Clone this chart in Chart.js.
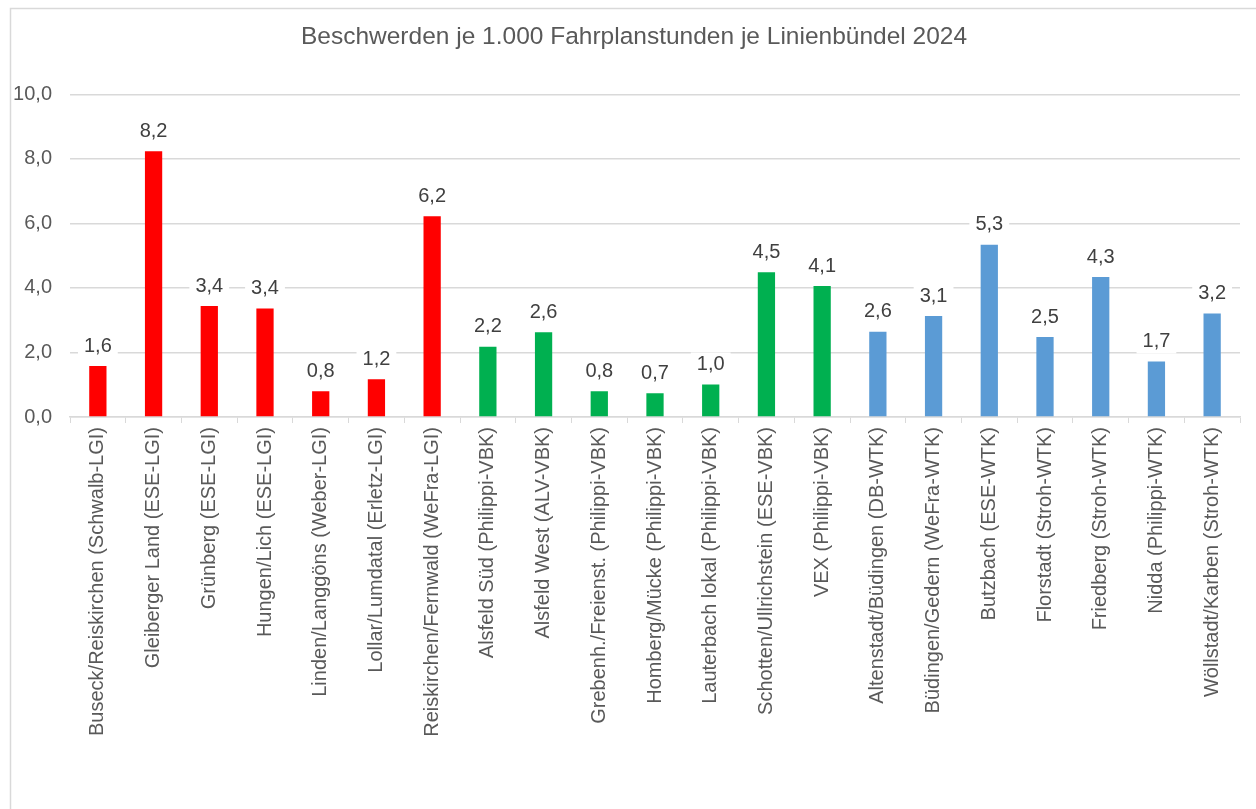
<!DOCTYPE html>
<html>
<head>
<meta charset="utf-8">
<script src="https://cdn.jsdelivr.net/npm/chart.js@4"></script>
<style>
  html, body { margin: 0; padding: 0; background: #fff; }
  #wrap { position: relative; width: 1256px; height: 809px; }
</style>
</head>
<body>
<div id="wrap"><canvas id="beschwerdenChart" width="1256" height="809"></canvas></div>
<script>
// Linienbündel und Beschwerden je 1.000 Fahrplanstunden
const buendel = [
    "Buseck/Reiskirchen (Schwalb-LGI)", "Gleiberger Land (ESE-LGI)", "Grünberg (ESE-LGI)",
    "Hungen/Lich (ESE-LGI)", "Linden/Langgöns (Weber-LGI)", "Lollar/Lumdatal (Erletz-LGI)",
    "Reiskirchen/Fernwald (WeFra-LGI)", "Alsfeld Süd (Philippi-VBK)", "Alsfeld West (ALV-VBK)",
    "Grebenh./Freienst. (Philippi-VBK)", "Homberg/Mücke (Philippi-VBK)", "Lauterbach lokal (Philippi-VBK)",
    "Schotten/Ullrichstein (ESE-VBK)", "VEX (Philippi-VBK)", "Altenstadt/Büdingen (DB-WTK)",
    "Büdingen/Gedern (WeFra-WTK)", "Butzbach (ESE-WTK)", "Florstadt (Stroh-WTK)",
    "Friedberg (Stroh-WTK)", "Nidda (Philippi-WTK)", "Wöllstadt/Karben (Stroh-WTK)"
];
const beschwerden = [1.58, 8.24, 3.44, 3.36, 0.80, 1.17, 6.22, 2.18, 2.63, 0.80, 0.74,
    1.01, 4.49, 4.06, 2.64, 3.13, 5.34, 2.48, 4.34, 1.72, 3.21];
const region = ["LGI", "LGI", "LGI", "LGI", "LGI", "LGI", "LGI", "VBK", "VBK", "VBK", "VBK",
    "VBK", "VBK", "VBK", "WTK", "WTK", "WTK", "WTK", "WTK", "WTK", "WTK"];
const yTicks = [0, 2, 4, 6, 8, 10];

const regionColor = { LGI: '#FF0000', VBK: '#00B050', WTK: '#5B9BD5' };
const fmt = v => v.toFixed(1).replace('.', ',');
const FONT = '"Liberation Sans", Arial, sans-serif';

// hellgrauer Rahmen wie im Original
const frame = {
    id: 'frame',
    beforeDraw(chart) {
        const c = chart.ctx;
        c.save();
        c.fillStyle = '#fff';
        c.fillRect(0, 0, chart.width, chart.height);
        c.strokeStyle = '#d9d9d9';
        c.lineWidth = 1.5;
        c.strokeRect(10.5, 8.5, 1400, 1000);
        c.restore();
    }
};

// Werte über den Balken, mit weißem Hintergrund
const valueLabels = {
    id: 'valueLabels',
    afterDatasetsDraw(chart) {
        const c = chart.ctx;
        const meta = chart.getDatasetMeta(0);
        c.save();
        c.font = '20px ' + FONT;
        c.textAlign = 'center';
        c.textBaseline = 'middle';
        meta.data.forEach((bar, i) => {
            const txt = fmt(beschwerden[i]);
            const w = c.measureText(txt).width;
            const y = bar.y - 20;
            c.fillStyle = '#fff';
            c.fillRect(bar.x - w / 2 - 6, y - 12, w + 12, 24);
            c.fillStyle = '#404040';
            c.fillText(txt, bar.x, y);
        });
        c.restore();
    }
};

const ctx = document.getElementById('beschwerdenChart').getContext('2d');
const beschwerdenChart = new Chart(ctx, {
    type: 'bar',
    data: {
        labels: buendel,
        datasets: [{
            label: 'Beschwerden',
            data: beschwerden,
            backgroundColor: region.map(r => regionColor[r]),
            barPercentage: 0.31,
            categoryPercentage: 1.0
        }]
    },
    options: {
        responsive: false,
        animation: false,
        layout: {
            padding: { left: 12, right: 0, top: 0, bottom: 0 }
        },
        plugins: {
            legend: { display: false },
            tooltip: { enabled: false },
            title: {
                display: true,
                text: 'Beschwerden je 1.000 Fahrplanstunden je Linienbündel 2024',
                color: '#595959',
                font: { size: 24.5, family: FONT, weight: 'normal' },
                padding: { top: 23, bottom: 42 }
            }
        },
        scales: {
            x: {
                offset: true,
                grid: {
                    display: true,
                    offset: true,
                    drawOnChartArea: false,
                    drawTicks: true,
                    tickLength: 6,
                    color: '#d9d9d9'
                },
                border: { display: true, color: '#d9d9d9', width: 1.5 },
                ticks: {
                    color: '#595959',
                    font: { size: 20, family: FONT },
                    minRotation: 90,
                    maxRotation: 90,
                    autoSkip: false,
                    padding: 4
                },
                afterFit(scale) { scale.height = 392; }
            },
            y: {
                min: 0,
                max: 10,
                afterBuildTicks(scale) { scale.ticks = yTicks.map(v => ({ value: v })); },
                grid: { color: '#d9d9d9', lineWidth: 1.5, drawTicks: false },
                border: { display: false },
                ticks: {
                    color: '#595959',
                    font: { size: 20, family: FONT },
                    padding: 18,
                    callback: v => fmt(v)
                },
                afterFit(scale) { scale.width = 58; }
            },
            // leere rechte Achse als Abstand zum Rand
            yRight: {
                position: 'right',
                min: 0,
                max: 10,
                grid: { display: false },
                border: { display: false },
                ticks: { display: false },
                afterFit(scale) { scale.width = 16; }
            }
        }
    },
    plugins: [frame, valueLabels]
});
</script>
</body>
</html>
